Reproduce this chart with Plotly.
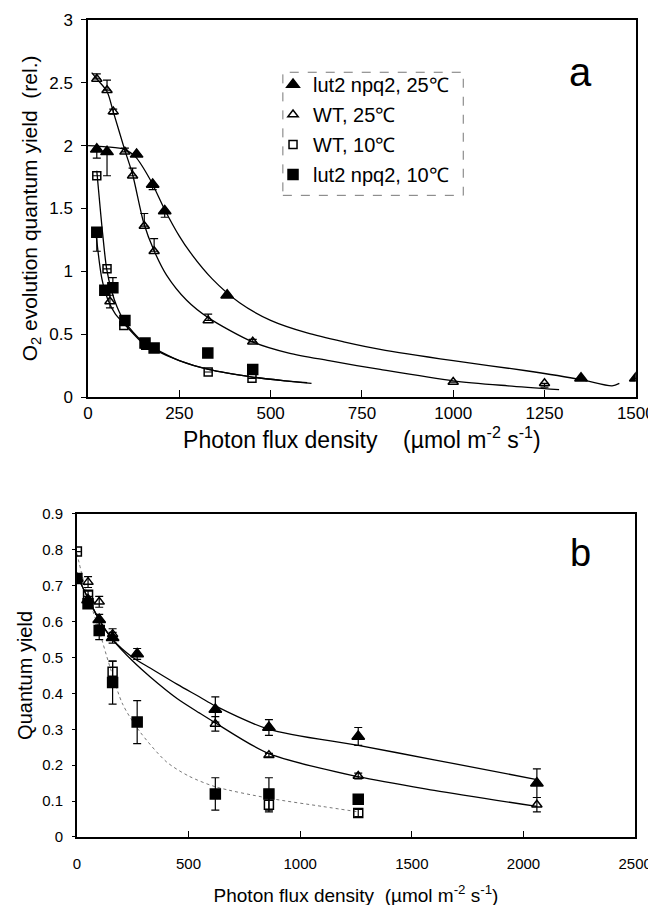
import plotly.graph_objects as go

# ---- panel a : O2 evolution quantum yield ----
a_lut25_x = [24, 52, 133, 177, 210, 381, 1350, 1500]
a_lut25_y = [1.97, 1.95, 1.93, 1.69, 1.48, 0.81, 0.15, 0.15]
a_lut25_up = [0, 0, 0, 0, 0, 0, 0, 0]
a_lut25_dn = [0.07, 0.19, 0, 0.04, 0.05, 0, 0, 0]

a_wt25_x = [24, 52, 60, 69, 101, 122, 154, 181, 329, 451, 1000, 1250]
a_wt25_y = [2.53, 2.44, 0.76, 2.27, 1.95, 1.76, 1.36, 1.16, 0.61, 0.44, 0.12, 0.11]
a_wt25_up = [0.04, 0.08, 0.05, 0.02, 0.03, 0.06, 0.1, 0.1, 0.05, 0.02, 0, 0]
a_wt25_dn = [0, 0, 0.05, 0.02, 0, 0, 0, 0, 0, 0, 0, 0.03]

a_wt10_x = [24, 52, 98, 157, 329, 449]
a_wt10_y = [1.76, 1.02, 0.57, 0.42, 0.20, 0.15]

a_lut10_x = [24, 46, 68, 101, 156, 181, 328, 451]
a_lut10_y = [1.31, 0.85, 0.87, 0.61, 0.43, 0.39, 0.35, 0.22]
a_lut10_up = [0, 0, 0.08, 0, 0, 0, 0, 0]
a_lut10_dn = [0.15, 0, 0, 0, 0.05, 0, 0, 0]

# fitted curves
fa_lut25_x = [0, 50, 100, 130, 170, 210, 250, 280, 340, 415, 500, 600, 700, 800, 1000, 1200, 1350, 1435, 1455]
fa_lut25_y = [2.0, 1.99, 1.97, 1.91, 1.73, 1.49, 1.28, 1.15, 0.94, 0.75, 0.61, 0.51, 0.44, 0.38, 0.29, 0.21, 0.14, 0.09, 0.11]
fa_wt25_x = [10, 24, 52, 69, 100, 122, 153, 180, 215, 270, 330, 450, 550, 660, 800, 1000, 1150, 1290]
fa_wt25_y = [2.58, 2.53, 2.43, 2.27, 1.97, 1.77, 1.38, 1.17, 0.97, 0.77, 0.63, 0.44, 0.35, 0.29, 0.22, 0.13, 0.09, 0.06]
fa_wt10_x = [24, 40, 51, 65, 79, 100, 150, 180, 250, 330, 450, 540, 600]
fa_wt10_y = [1.8, 1.3, 1.02, 0.84, 0.72, 0.6, 0.44, 0.39, 0.29, 0.22, 0.16, 0.13, 0.115]
fa_lut10_x = [20, 38, 55, 75, 100, 150, 180, 250, 330, 450, 540, 612]
fa_lut10_y = [1.35, 0.94, 0.77, 0.66, 0.58, 0.43, 0.38, 0.29, 0.22, 0.16, 0.13, 0.11]

# ---- panel b : quantum yield ----
b_lut25_x = [0, 50, 100, 160, 270, 620, 860, 1260, 2060]
b_lut25_y = [0.72, 0.66, 0.605, 0.555, 0.51, 0.355, 0.305, 0.28, 0.15]
b_lut25_e = [0, 0.01, 0.015, 0.015, 0.015, 0.035, 0.022, 0.025, 0.04]

b_wt25_x = [0, 50, 100, 160, 620, 860, 1260, 2060]
b_wt25_y = [0.72, 0.71, 0.655, 0.565, 0.315, 0.228, 0.17, 0.09]
b_wt25_e = [0, 0.015, 0.015, 0.015, 0.02, 0.005, 0.008, 0.02]

b_wt10_x = [0, 50, 160, 860, 1260]
b_wt10_y = [0.795, 0.675, 0.46, 0.09, 0.067]
b_wt10_e = [0, 0.01, 0.03, 0.02, 0.01]

b_lut10_x = [0, 50, 100, 160, 270, 620, 860, 1260]
b_lut10_y = [0.72, 0.65, 0.575, 0.43, 0.32, 0.12, 0.12, 0.105]
b_lut10_e = [0.01, 0.01, 0.025, 0.06, 0.06, 0.045, 0.045, 0.01]

fb_x = [0, 50, 100, 160, 250, 330, 450, 550, 620, 860, 1260, 1600, 2060]
fb_lut25_y = [0.73, 0.665, 0.605, 0.55, 0.5, 0.47, 0.425, 0.39, 0.365, 0.30, 0.255, 0.215, 0.16]
fb_wt25_y = [0.73, 0.665, 0.605, 0.55, 0.49, 0.445, 0.385, 0.345, 0.318, 0.232, 0.168, 0.13, 0.085]
fb_10_x = [0, 40, 90, 150, 205, 280, 400, 500, 620, 860, 1100, 1260]
fb_10_y = [0.79, 0.69, 0.595, 0.47, 0.37, 0.295, 0.21, 0.17, 0.14, 0.108, 0.085, 0.07]

names = ['lut2 npq2, 25\u2103', 'WT, 25\u2103', 'WT, 10\u2103', 'lut2 npq2, 10\u2103']
symbols = ['triangle-up', 'triangle-up-open', 'square-open', 'square']

FONT = 'Liberation Sans, Arial, sans-serif'
SP = '\u00a0'
fig = go.Figure()


def err(up, dn=None):
    return dict(type='data', array=up, arrayminus=dn if dn is not None else up,
                symmetric=False, color='black', thickness=1.2, width=4)


# panel a curves
for cx, cy in [(fa_lut25_x, fa_lut25_y), (fa_wt25_x, fa_wt25_y),
               (fa_wt10_x, fa_wt10_y), (fa_lut10_x, fa_lut10_y)]:
    fig.add_trace(go.Scatter(x=cx, y=cy, mode='lines', showlegend=False,
                             line=dict(color='black', width=1.3, shape='spline', smoothing=0.8),
                             xaxis='x', yaxis='y'))

# panel a points (these carry the legend)
pts_a = [(a_lut25_x, a_lut25_y, err(a_lut25_up, a_lut25_dn), 11),
         (a_wt25_x, a_wt25_y, err(a_wt25_up, a_wt25_dn), 9),
         (a_wt10_x, a_wt10_y, err([0, 0, 0, 0.02, 0, 0]), 8),
         (a_lut10_x, a_lut10_y, err(a_lut10_up, a_lut10_dn), 10)]
for i, (px_, py_, e, sz) in enumerate(pts_a):
    fig.add_trace(go.Scatter(x=px_, y=py_, mode='markers', name=names[i], legendgroup=str(i),
                             marker=dict(symbol=symbols[i], size=sz, color='black',
                                         line=dict(color='black', width=1.5)),
                             error_y=e, xaxis='x', yaxis='y'))

# panel b curves
fig.add_trace(go.Scatter(x=fb_x, y=fb_lut25_y, mode='lines', showlegend=False,
                         line=dict(color='black', width=1.3, shape='spline', smoothing=0.8),
                         xaxis='x2', yaxis='y2'))
fig.add_trace(go.Scatter(x=fb_x, y=fb_wt25_y, mode='lines', showlegend=False,
                         line=dict(color='black', width=1.3, shape='spline', smoothing=0.8),
                         xaxis='x2', yaxis='y2'))
fig.add_trace(go.Scatter(x=fb_10_x, y=fb_10_y, mode='lines', showlegend=False,
                         line=dict(color='#777', width=1, dash='dot', shape='spline', smoothing=0.8),
                         xaxis='x2', yaxis='y2'))

pts_b = [(b_lut25_x, b_lut25_y, b_lut25_e, 11), (b_wt25_x, b_wt25_y, b_wt25_e, 9),
         (b_wt10_x, b_wt10_y, b_wt10_e, 9), (b_lut10_x, b_lut10_y, b_lut10_e, 10)]
for i, (px_, py_, e, sz) in enumerate(pts_b):
    fig.add_trace(go.Scatter(x=px_, y=py_, mode='markers', showlegend=False,
                             marker=dict(symbol=symbols[i], size=sz, color='black',
                                         line=dict(color='black', width=1.5)),
                             error_y=err(e), xaxis='x2', yaxis='y2'))

ax = dict(showline=True, linecolor='black', linewidth=1.5, mirror=True, showgrid=False,
          zeroline=False, color='black', automargin=False)

# the page body adds an 8 px offset, so domains are shifted to compensate
fig.update_layout(
    width=656, height=905, margin=dict(l=0, r=0, t=0, b=0, autoexpand=False),
    paper_bgcolor='white', plot_bgcolor='white',
    font=dict(family=FONT, color='black'),
    xaxis=dict(ax, domain=[0.122, 0.957], anchor='y', range=[0, 1500], dtick=250,
               ticks='inside', ticklen=7, tickcolor='black', tickfont=dict(size=17),
               title=dict(text='Photon flux density' + SP * 4 + '(µmol m<sup>-2</sup> s<sup>-1</sup>)',
                          font=dict(size=23), standoff=3)),
    yaxis=dict(ax, domain=[0.570, 0.987], anchor='x', range=[0, 3], dtick=0.5,
               ticks='outside', ticklen=5, tickcolor='black', tickfont=dict(size=17),
               ticklabelstandoff=5,
               title=dict(text='O<sub>2</sub> evolution quantum yield' + SP * 2 + '(rel.)',
                          font=dict(size=21), standoff=6)),
    xaxis2=dict(ax, domain=[0.105, 0.956], anchor='y2', range=[0, 2500], dtick=500,
                ticks='inside', ticklen=6, tickcolor='black', tickfont=dict(size=15),
                ticklabelstandoff=12,
                title=dict(text='Photon flux density' + SP * 2 + '(µmol m<sup>-2</sup> s<sup>-1</sup>)',
                           font=dict(size=19), standoff=18)),
    yaxis2=dict(ax, domain=[0.084, 0.441], anchor='x2', range=[0, 0.9], dtick=0.1,
                ticks='outside', ticklen=3, tickcolor='black', tickfont=dict(size=15),
                ticklabelstandoff=6,
                title=dict(text='Quantum yield', font=dict(size=20), standoff=4)),
    legend=dict(x=0.404, y=0.937, xanchor='left', yanchor='top', bgcolor='rgba(0,0,0,0)',
                font=dict(size=20), tracegroupgap=1, itemwidth=30),
    shapes=[dict(type='rect', xref='paper', yref='paper', x0=0.419, x1=0.694, y0=0.793, y1=0.929,
                 line=dict(color='#777', width=1, dash='dash'))],
    annotations=[dict(text='a', x=0.873, y=0.929, xref='paper', yref='paper', showarrow=False,
                      xanchor='center', yanchor='middle', font=dict(size=40)),
                 dict(text='b', x=0.872, y=0.398, xref='paper', yref='paper', showarrow=False,
                      xanchor='center', yanchor='middle', font=dict(size=38))],
)

fig.write_html("out.html")
